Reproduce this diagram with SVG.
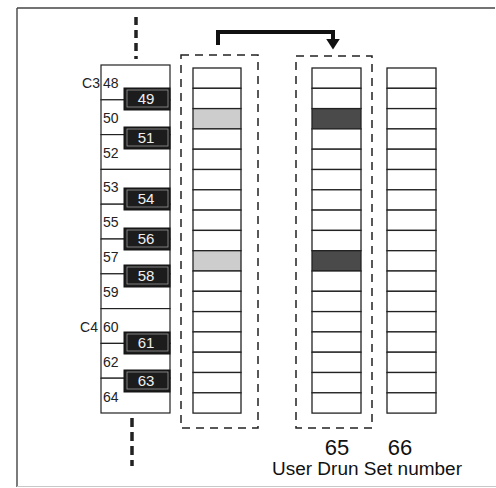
<svg xmlns="http://www.w3.org/2000/svg" width="496" height="488" viewBox="0 0 496 488">
<defs>
<style>
.frame{stroke:#444;stroke-width:1.4;fill:none}
.wk{fill:#fff;stroke:#222;stroke-width:1.2}
.bk{fill:#1c1c1c;stroke:#111;stroke-width:1}
.bkin{fill:none;stroke:#9a9a9a;stroke-width:0.8}
.slot{fill:#fff;stroke:#222;stroke-width:1.3}
.lt{fill:#cdcdcd}
.dk{fill:#4a4a4a}
.dash{fill:none;stroke:#222;stroke-width:1.5;stroke-dasharray:8 6}
.dots{stroke:#222;stroke-width:3.5;fill:none}
.lbl{font-family:"Liberation Sans",Arial,sans-serif;font-size:14px;fill:#222}
.blbl{font-family:"Liberation Sans",Arial,sans-serif;font-size:15px;fill:#eee;text-anchor:middle}
.num{font-family:"Liberation Sans",Arial,sans-serif;font-size:22px;fill:#111;text-anchor:middle}
.cap{font-family:"Liberation Sans",Arial,sans-serif;font-size:18px;fill:#111;text-anchor:middle}
.arrow{fill:none;stroke:#111;stroke-width:4;stroke-linejoin:miter}
</style>
<marker id="ah" markerWidth="4" markerHeight="4" refX="1" refY="2" orient="auto" markerUnits="strokeWidth">
<path d="M0,0.3 L2.6,2 L0,3.7 Z" fill="#111"/>
</marker>
</defs>

<g id="frame">
<line class="frame" x1="17" y1="8" x2="495" y2="8"/>
<line class="frame" x1="17" y1="8" x2="17" y2="487"/>
<line x1="17" y1="486.5" x2="496" y2="486.5" stroke="#c8c8c8" stroke-width="1.2"/>
</g>

<g id="keyboard">
<line class="dots" x1="136" y1="17" x2="136" y2="59" stroke-dasharray="8 5"/>
<line class="dots" x1="132" y1="418" x2="132" y2="466" stroke-dasharray="9 5"/>
<rect class="wk" x="101" y="65" width="69" height="34.8"/>
<rect class="wk" x="101" y="99.8" width="69" height="34.8"/>
<rect class="wk" x="101" y="134.6" width="69" height="34.8"/>
<rect class="wk" x="101" y="169.4" width="69" height="34.8"/>
<rect class="wk" x="101" y="204.2" width="69" height="34.8"/>
<rect class="wk" x="101" y="239" width="69" height="34.8"/>
<rect class="wk" x="101" y="273.8" width="69" height="34.8"/>
<rect class="wk" x="101" y="308.6" width="69" height="34.8"/>
<rect class="wk" x="101" y="343.4" width="69" height="34.8"/>
<rect class="wk" x="101" y="378.2" width="69" height="34.8"/>
<text class="lbl" x="103" y="88">48</text>
<text class="lbl" x="103" y="123">50</text>
<text class="lbl" x="103" y="158">52</text>
<text class="lbl" x="103" y="192">53</text>
<text class="lbl" x="103" y="227">55</text>
<text class="lbl" x="103" y="262">57</text>
<text class="lbl" x="103" y="297">59</text>
<text class="lbl" x="103" y="332">60</text>
<text class="lbl" x="103" y="367">62</text>
<text class="lbl" x="103" y="402">64</text>
<text class="lbl" x="100" y="88" text-anchor="end">C3</text>
<text class="lbl" x="98" y="332" text-anchor="end">C4</text>
<g id="k49"><rect class="bk" x="124" y="88" width="46" height="22"/><rect class="bkin" x="127" y="90" width="41" height="17"/><text class="blbl" x="146" y="104">49</text></g>
<g id="k51"><rect class="bk" x="124" y="127" width="46" height="22"/><rect class="bkin" x="127" y="129" width="41" height="17"/><text class="blbl" x="146" y="143">51</text></g>
<g id="k54"><rect class="bk" x="124" y="188" width="46" height="22"/><rect class="bkin" x="127" y="190" width="41" height="17"/><text class="blbl" x="146" y="204">54</text></g>
<g id="k56"><rect class="bk" x="124" y="228" width="46" height="22"/><rect class="bkin" x="127" y="230" width="41" height="17"/><text class="blbl" x="146" y="244">56</text></g>
<g id="k58"><rect class="bk" x="124" y="265" width="46" height="22"/><rect class="bkin" x="127" y="267" width="41" height="17"/><text class="blbl" x="146" y="281">58</text></g>
<g id="k61"><rect class="bk" x="124" y="332" width="46" height="22"/><rect class="bkin" x="127" y="334" width="41" height="17"/><text class="blbl" x="146" y="348">61</text></g>
<g id="k63"><rect class="bk" x="124" y="370" width="46" height="22"/><rect class="bkin" x="127" y="372" width="41" height="17"/><text class="blbl" x="146" y="386">63</text></g>
</g>

<g id="set-source">
<rect class="dash" x="181" y="55" width="77" height="373"/>
<rect class="slot" x="193" y="68" width="48" height="20.3"/>
<rect class="slot" x="193" y="88.3" width="48" height="20.3"/>
<rect class="slot lt" x="193" y="108.6" width="48" height="20.3"/>
<rect class="slot" x="193" y="128.9" width="48" height="20.3"/>
<rect class="slot" x="193" y="149.2" width="48" height="20.3"/>
<rect class="slot" x="193" y="169.5" width="48" height="20.3"/>
<rect class="slot" x="193" y="189.8" width="48" height="20.3"/>
<rect class="slot" x="193" y="210.1" width="48" height="20.3"/>
<rect class="slot" x="193" y="230.4" width="48" height="20.3"/>
<rect class="slot lt" x="193" y="250.7" width="48" height="20.3"/>
<rect class="slot" x="193" y="271" width="48" height="20.3"/>
<rect class="slot" x="193" y="291.3" width="48" height="20.3"/>
<rect class="slot" x="193" y="311.6" width="48" height="20.3"/>
<rect class="slot" x="193" y="331.9" width="48" height="20.3"/>
<rect class="slot" x="193" y="352.2" width="48" height="20.3"/>
<rect class="slot" x="193" y="372.5" width="48" height="20.3"/>
<rect class="slot" x="193" y="392.8" width="48" height="20.3"/>
</g>

<g id="set-65">
<rect class="dash" x="296" y="56" width="76" height="372"/>
<rect class="slot" x="312" y="68" width="49" height="20.3"/>
<rect class="slot" x="312" y="88.3" width="49" height="20.3"/>
<rect class="slot dk" x="312" y="108.6" width="49" height="20.3"/>
<rect class="slot" x="312" y="128.9" width="49" height="20.3"/>
<rect class="slot" x="312" y="149.2" width="49" height="20.3"/>
<rect class="slot" x="312" y="169.5" width="49" height="20.3"/>
<rect class="slot" x="312" y="189.8" width="49" height="20.3"/>
<rect class="slot" x="312" y="210.1" width="49" height="20.3"/>
<rect class="slot" x="312" y="230.4" width="49" height="20.3"/>
<rect class="slot dk" x="312" y="250.7" width="49" height="20.3"/>
<rect class="slot" x="312" y="271" width="49" height="20.3"/>
<rect class="slot" x="312" y="291.3" width="49" height="20.3"/>
<rect class="slot" x="312" y="311.6" width="49" height="20.3"/>
<rect class="slot" x="312" y="331.9" width="49" height="20.3"/>
<rect class="slot" x="312" y="352.2" width="49" height="20.3"/>
<rect class="slot" x="312" y="372.5" width="49" height="20.3"/>
<rect class="slot" x="312" y="392.8" width="49" height="20.3"/>
<text class="num" x="337" y="455">65</text>
</g>

<g id="set-66">
<rect class="slot" x="387" y="68" width="49" height="20.3"/>
<rect class="slot" x="387" y="88.3" width="49" height="20.3"/>
<rect class="slot" x="387" y="108.6" width="49" height="20.3"/>
<rect class="slot" x="387" y="128.9" width="49" height="20.3"/>
<rect class="slot" x="387" y="149.2" width="49" height="20.3"/>
<rect class="slot" x="387" y="169.5" width="49" height="20.3"/>
<rect class="slot" x="387" y="189.8" width="49" height="20.3"/>
<rect class="slot" x="387" y="210.1" width="49" height="20.3"/>
<rect class="slot" x="387" y="230.4" width="49" height="20.3"/>
<rect class="slot" x="387" y="250.7" width="49" height="20.3"/>
<rect class="slot" x="387" y="271" width="49" height="20.3"/>
<rect class="slot" x="387" y="291.3" width="49" height="20.3"/>
<rect class="slot" x="387" y="311.6" width="49" height="20.3"/>
<rect class="slot" x="387" y="331.9" width="49" height="20.3"/>
<rect class="slot" x="387" y="352.2" width="49" height="20.3"/>
<rect class="slot" x="387" y="372.5" width="49" height="20.3"/>
<rect class="slot" x="387" y="392.8" width="49" height="20.3"/>
<text class="num" x="400" y="455">66</text>
</g>

<g id="caption">
<text class="cap" x="367" y="475" textLength="190" lengthAdjust="spacingAndGlyphs">User Drun Set number</text>
</g>

<g id="connectors">
<polyline class="arrow" points="218,45 218,32 333,32 333,43" marker-end="url(#ah)"/>
</g>
</svg>
